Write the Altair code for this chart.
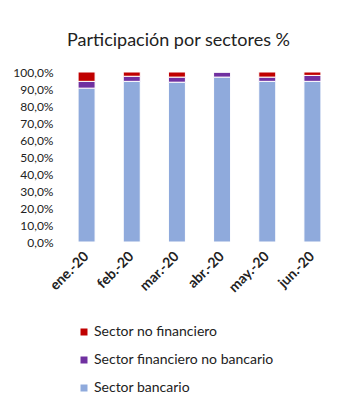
import altair as alt
import pandas as pd

months = ["ene.-20", "feb.-20", "mar.-20", "abr.-20", "may.-20", "jun.-20"]
bancario = [90.5, 94.5, 94.0, 97.0, 94.5, 94.5]
fin_no_bancario = [4.0, 3.0, 3.0, 3.0, 2.5, 3.5]
no_financiero = [5.5, 2.5, 3.0, 0.0, 3.0, 2.0]

series = ["Sector no financiero", "Sector financiero no bancario", "Sector bancario"]
colors = ["#C00000", "#7030A0", "#8FAADC"]

rows = []
for i, m in enumerate(months):
    rows.append({"mes": m, "sector": "Sector bancario", "valor": bancario[i], "orden": 0})
    rows.append({"mes": m, "sector": "Sector financiero no bancario", "valor": fin_no_bancario[i], "orden": 1})
    rows.append({"mes": m, "sector": "Sector no financiero", "valor": no_financiero[i], "orden": 2})
df = pd.DataFrame(rows)

FONT = "Lato"

chart = alt.Chart(df).mark_bar(size=17, stroke="white", strokeWidth=1).encode(
    x=alt.X("mes:N", sort=months, title=None,
            scale=alt.Scale(paddingInner=0.62, paddingOuter=0.31),
            axis=alt.Axis(labelAngle=-45, labelFontWeight="bold", labelFontSize=14,
                          labelColor="#222222", labelFont=FONT, ticks=False, domain=False,
                          labelPadding=12, labelAlign="right", labelBaseline="middle")),
    y=alt.Y("valor:Q", stack="zero", title=None,
            scale=alt.Scale(domain=[0, 100]),
            axis=alt.Axis(values=list(range(0, 101, 10)), grid=False, domain=False, ticks=False,
                          labelExpr="replace(format(datum.value, '.1f'), '.', ',') + '%'",
                          labelFontSize=12, labelColor="#222222", labelFont=FONT, labelPadding=11)),
    color=alt.Color("sector:N", scale=alt.Scale(domain=series, range=colors),
                    legend=alt.Legend(title=None, orient="none", legendX=13, legendY=253,
                                      direction="vertical", symbolType="square", symbolSize=49,
                                      symbolStrokeWidth=0, labelFontSize=14, labelFont=FONT,
                                      labelColor="#222222", rowPadding=14, labelOffset=3,
                                      labelLimit=300)),
    order=alt.Order("orden:Q", sort="ascending"),
).properties(
    width=271, height=170,
    title=alt.TitleParams("Participación por sectores %", font=FONT, fontSize=18,
                          fontWeight="normal", color="#222222", anchor="middle", dx=-21, offset=16),
    autosize=alt.AutoSizeParams(type="none"),
    padding={"left": 64, "top": 72, "right": 18, "bottom": 178},
).configure_view(stroke=None)

chart.save("out.html", embed_options={"renderer": "svg", "actions": False})
